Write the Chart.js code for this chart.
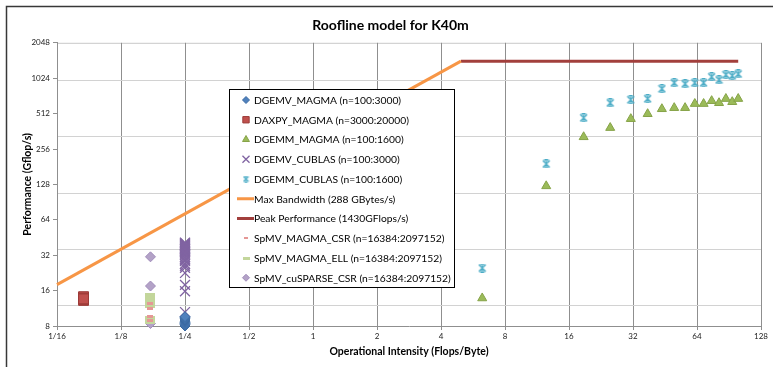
<!DOCTYPE html>
<html>
<head>
<meta charset="utf-8">
<title>Roofline model for K40m</title>
<script src="https://cdn.jsdelivr.net/npm/chart.js@4.4.0/dist/chart.umd.min.js"></script>
<style>
    html, body { margin: 0; padding: 0; background: #fff; }
    canvas { display: block; }
</style>
</head>
<body>
<canvas id="rooflineChart" width="773" height="367"></canvas>
<script>
// Axis ticks (log2 on both axes)
const xTickValues = [1/16, 1/8, 1/4, 1/2, 1, 2, 4, 8, 16, 32, 64, 128];
const xTickLabels = ['1/16', '1/8', '1/4', '1/2', '1', '2', '4', '8', '16', '32', '64', '128'];
const yTickValues = [8, 16, 32, 64, 128, 256, 512, 1024, 2048];
const yGridValues = [12, 36, 108, 324, 972];

const dgemvIntensity = 0.25;
const dgemvMagmaPerf = [8.0, 8.2, 8.4, 8.6, 8.8, 9.0, 9.2, 9.4, 9.6];
const dgemvCublasPerf = [10.5, 15.8, 17.9, 22.6, 25, 27, 28.5, 30, 31, 32, 33, 34, 34.5, 35, 35.5,
                         36, 36.5, 37, 37.5, 38, 38.5, 39, 39.5, 40, 40.5, 41, 36, 33, 29, 26];

const daxpyIntensity = 1/12;
const daxpyMagmaPerf = [13.2, 13.5, 13.7, 13.9, 14.0, 14.2, 13.8, 13.6];

const dgemmIntensity = [6.25, 12.5, 18.75, 25, 31.25, 37.5, 43.75, 50, 56.25, 62.5, 68.75, 75, 81.25, 87.5, 93.75, 100];
const dgemmMagmaPerf = [13.8, 124, 324, 388, 462, 509, 561, 573, 573, 621, 621, 657, 631, 685, 644, 685];
const dgemmCublasPerf = [24.9, 191, 471, 631, 671, 684, 832, 935, 917, 935, 935, 1052, 990, 1095, 1074, 1113];

const spmvIntensity = 0.172;
const spmvMagmaCsrPerf = [12.5, 11.3, 9.7, 8.9];
const spmvMagmaEllPerf = [14.5, 13.3, 12.0, 9.3, 8.7];
const spmvCusparsePerf = [31, 17.5, 8.4];

// Roofline: bandwidth slope then compute ceiling
const bandwidthX = [1/16, 1430/288];
const bandwidthY = [18, 1430];
const peakX = [1430/288, 100];
const peakY = [1430, 1430];

function points(xs, ys) {
    return ys.map((y, i) => ({ x: Array.isArray(xs) ? xs[i] : xs, y: y }));
}

function dashMarker(w, h, color) {
    const c = document.createElement('canvas');
    c.width = w; c.height = h;
    const g = c.getContext('2d');
    g.fillStyle = color;
    g.fillRect(0, 0, w, h);
    return c;
}

// Excel style "star": an X with short bars on top and bottom
function starMarker(size, color) {
    const c = document.createElement('canvas');
    c.width = size; c.height = size;
    const g = c.getContext('2d');
    g.strokeStyle = color;
    g.lineWidth = 1.4;
    g.beginPath();
    g.moveTo(1, 1); g.lineTo(size - 1, size - 1);
    g.moveTo(size - 1, 1); g.lineTo(1, size - 1);
    g.moveTo(size / 2, 2); g.lineTo(size / 2, size - 2);
    g.moveTo(2.5, 0.7); g.lineTo(size - 2.5, 0.7);
    g.moveTo(2.5, size - 0.7); g.lineTo(size - 2.5, size - 0.7);
    g.stroke();
    return c;
}

const colors = {
    blue: '#4f81bd', red: '#c0504d', green: '#9bbb59', purple: '#8064a2',
    aqua: '#4bacc6', orange: '#f79646', peak: '#a23f3c',
    csr: '#e59795', ell: '#c3d69b', cusparse: '#b3a2c7'
};

const datasets = [
    { label: 'DGEMV_MAGMA (n=100:3000)', data: points(dgemvIntensity, dgemvMagmaPerf),
      pointStyle: 'rectRot', pointRadius: 5, backgroundColor: colors.blue, borderColor: '#3b6aa3', borderWidth: 1,
      legend: { style: 'rectRot', radius: 3.5 } },
    { label: 'DAXPY_MAGMA (n=3000:20000)', data: points(daxpyIntensity, daxpyMagmaPerf),
      pointStyle: 'rect', pointRadius: 7, backgroundColor: colors.red, borderColor: '#9b3a37', borderWidth: 1,
      legend: { style: 'rect', radius: 4.5 } },
    { label: 'DGEMM_MAGMA (n=100:1600)', data: points(dgemmIntensity, dgemmMagmaPerf),
      pointStyle: 'triangle', pointRadius: 5.2, backgroundColor: colors.green, borderColor: '#86a348', borderWidth: 1,
      legend: { style: 'triangle', radius: 4 } },
    { label: 'DGEMV_CUBLAS (n=100:3000)', data: points(dgemvIntensity, dgemvCublasPerf),
      pointStyle: 'crossRot', pointRadius: 7, backgroundColor: colors.purple, borderColor: colors.purple, borderWidth: 1.3,
      legend: { style: 'crossRot', radius: 5 } },
    { label: 'DGEMM_CUBLAS (n=100:1600)', data: points(dgemmIntensity, dgemmCublasPerf),
      pointStyle: starMarker(9, colors.aqua), backgroundColor: colors.aqua, borderColor: colors.aqua,
      legend: { style: starMarker(7, colors.aqua), radius: 4 } },
    { label: 'Max Bandwidth (288 GBytes/s)', data: points(bandwidthX, bandwidthY),
      showLine: true, borderColor: colors.orange, borderWidth: 3, pointRadius: 0 },
    { label: 'Peak Performance (1430GFlops/s)', data: points(peakX, peakY),
      showLine: true, borderColor: colors.peak, borderWidth: 3, pointRadius: 0 },
    { label: 'SpMV_MAGMA_CSR (n=16384:2097152)', data: points(spmvIntensity, spmvMagmaCsrPerf),
      pointStyle: dashMarker(6, 3, colors.csr), backgroundColor: colors.csr, borderColor: colors.csr,
      legend: { style: dashMarker(4, 2, colors.csr), radius: 3 } },
    { label: 'SpMV_MAGMA_ELL (n=16384:2097152)', data: points(spmvIntensity, spmvMagmaEllPerf),
      pointStyle: dashMarker(10, 5, colors.ell), backgroundColor: colors.ell, borderColor: colors.ell,
      legend: { style: dashMarker(7, 3, colors.ell), radius: 3 } },
    { label: 'SpMV_cuSPARSE_CSR (n=16384:2097152)', data: points(spmvIntensity, spmvCusparsePerf),
      pointStyle: 'rectRot', pointRadius: 5, backgroundColor: colors.cusparse, borderColor: '#a08cba', borderWidth: 1,
      legend: { style: 'rectRot', radius: 3.5 } }
];
datasets.forEach(ds => { ds.clip = false; });

// Outer chart frame, top edge of plot area and the boxed legend
const excelFrame = {
    id: 'excelFrame',
    beforeDraw(chart) {
        const ctx = chart.ctx;
        ctx.save();
        ctx.strokeStyle = '#383838';
        ctx.lineWidth = 1.5;
        ctx.beginPath();
        ctx.moveTo(6.5, chart.height);
        ctx.lineTo(6.5, 6.5);
        ctx.lineTo(chart.width, 6.5);
        ctx.stroke();
        const a = chart.chartArea;
        ctx.strokeStyle = '#c8c8c8';
        ctx.lineWidth = 1;
        ctx.beginPath();
        ctx.moveTo(a.left, a.top + 0.5);
        ctx.lineTo(a.right, a.top + 0.5);
        ctx.stroke();
        ctx.restore();
    },
    afterDraw(chart) {
        const ctx = chart.ctx;
        const box = { x: 229.5, y: 89.5, w: 225, h: 198 };
        ctx.save();
        ctx.fillStyle = '#fff';
        ctx.fillRect(box.x, box.y, box.w, box.h);
        ctx.strokeStyle = '#000';
        ctx.lineWidth = 1;
        ctx.strokeRect(box.x, box.y, box.w, box.h);
        ctx.font = '10.3px Lato';
        ctx.textBaseline = 'middle';
        chart.data.datasets.forEach((ds, i) => {
            const y = 100 + i * 19.75;
            if (ds.showLine) {
                ctx.strokeStyle = ds.borderColor;
                ctx.lineWidth = 3;
                ctx.beginPath();
                ctx.moveTo(237, y);
                ctx.lineTo(254, y);
                ctx.stroke();
            } else {
                ctx.fillStyle = ds.backgroundColor;
                ctx.strokeStyle = ds.borderColor;
                ctx.lineWidth = ds.borderWidth || 1;
                Chart.helpers.drawPoint(ctx, {
                    pointStyle: ds.legend.style, radius: ds.legend.radius,
                    rotation: 0, borderWidth: ds.borderWidth || 1
                }, 246, y);
            }
            ctx.fillStyle = '#000';
            ctx.fillText(ds.label, 254, y + 0.5);
        });
        ctx.restore();
    }
};

Chart.defaults.font.family = 'Lato, "Open Sans", sans-serif';
Chart.defaults.color = '#222';

new Chart(document.getElementById('rooflineChart'), {
    type: 'scatter',
    data: { datasets: datasets },
    options: {
        responsive: false,
        animation: false,
        devicePixelRatio: 1,
        layout: { padding: { left: 20, right: 12, top: 0, bottom: 8 } },
        plugins: {
            legend: { display: false },
            tooltip: { enabled: false },
            title: {
                display: true,
                text: 'Roofline model for K40m',
                color: '#000',
                font: { size: 14, weight: 'bold' },
                padding: { top: 17, bottom: 9 }
            }
        },
        scales: {
            x: {
                type: 'logarithmic',
                min: 1/16,
                max: 128,
                afterBuildTicks: s => { s.ticks = xTickValues.map(v => ({ value: v })); },
                afterFit: s => { s.height = 33; },
                ticks: {
                    autoSkip: false, maxRotation: 0, padding: 2,
                    font: { size: 8 },
                    callback: (v, i) => xTickLabels[i]
                },
                grid: { color: '#8f8f8f', tickLength: 4 },
                border: { color: '#8f8f8f' },
                title: {
                    display: true,
                    text: 'Operational Intensity (Flops/Byte)',
                    color: '#000',
                    font: { size: 10.5, weight: 'bold' },
                    padding: { top: 0, bottom: 1 }
                }
            },
            y: {
                type: 'logarithmic',
                min: 8,
                max: 2048,
                afterBuildTicks: s => { s.ticks = yTickValues.map(v => ({ value: v })); },
                afterFit: s => { s.width = 37; },
                ticks: {
                    autoSkip: false, padding: 3,
                    font: { size: 8 },
                    callback: v => String(v)
                },
                grid: { drawOnChartArea: false, color: '#8f8f8f', tickLength: 4 },
                border: { color: '#8f8f8f' },
                title: {
                    display: true,
                    text: 'Performance (Gflop/s)',
                    color: '#000',
                    font: { size: 10.5, weight: 'bold' },
                    padding: { top: 1, bottom: 0 }
                }
            },
            // light horizontal gridlines sit between the tick marks in the original
            yGrid: {
                type: 'logarithmic',
                position: 'right',
                min: 8,
                max: 2048,
                afterBuildTicks: s => { s.ticks = yGridValues.map(v => ({ value: v })); },
                afterFit: s => { s.width = 0; },
                ticks: { display: false },
                grid: { color: '#d2d2d2', drawTicks: false },
                border: { display: false }
            }
        }
    },
    plugins: [excelFrame]
});
</script>
</body>
</html>
